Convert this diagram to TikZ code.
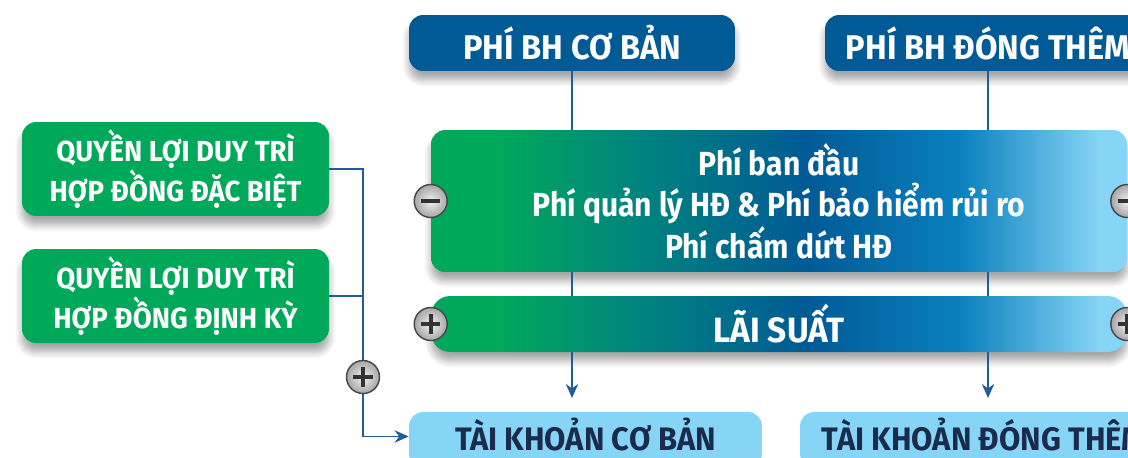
\documentclass[tikz,border=0pt]{standalone}
\usepackage{fontspec}
\newfontfamily\condfont[FakeStretch=0.95]{Fira Sans}
\newfontfamily\feefont[FakeStretch=0.9]{Fira Sans}
\usetikzlibrary{positioning,arrows.meta,shadows,shadows.blur}

\definecolor{feeGreen}{HTML}{00A859}
\definecolor{feeTeal}{HTML}{008A7A}
\definecolor{feeDark}{HTML}{005A96}
\definecolor{feeMid}{HTML}{0A80BE}
\definecolor{feeLight}{HTML}{86D4F6}
\definecolor{acctText}{HTML}{1B2B4B}
\definecolor{linkBlue}{HTML}{1F5C99}

\pgfdeclarehorizontalshading{feeshade}{100bp}{color(0bp)=(feeGreen); color(25bp)=(feeGreen); color(30bp)=(feeGreen); color(38bp)=(feeTeal); color(52bp)=(feeDark); color(63bp)=(feeMid); color(73bp)=(feeLight); color(100bp)=(feeLight)}

\begin{document}
\begin{tikzpicture}[x=0.02cm, y=-0.02cm,
  every node/.style={font=\condfont\bfseries},
  boxshadow/.style={blur shadow={shadow xshift=0pt, shadow yshift=-5pt, shadow blur steps=8, shadow blur radius=4pt, shadow opacity=35}},
  topbox/.style={rectangle, rounded corners=8pt, fill=feeDark, text=white,
    minimum width=6.52cm, minimum height=1.12cm, boxshadow,
    font=\condfont\bfseries\fontsize{19.5}{23}\selectfont},
  feebox/.style={rectangle, rounded corners=8pt, shading=feeshade, text=white,
    minimum width=13.92cm, minimum height=2.84cm, boxshadow, align=center,
    font=\feefont\bfseries\fontsize{19}{23.5}\selectfont},
  ratebox/.style={feebox, rounded corners=11pt, minimum height=1.12cm,
    font=\condfont\bfseries\fontsize{20}{23}\selectfont},
  bonusbox/.style={rectangle, rounded corners=8pt, fill=feeGreen, text=white,
    minimum width=6.14cm, minimum height=1.88cm, boxshadow, align=center,
    font=\condfont\bfseries\fontsize{16.5}{20}\selectfont},
  acctbox/.style={rectangle, rounded corners=8pt, fill=feeLight, text=acctText,
    minimum width=7.06cm, minimum height=1.12cm, text height=14pt, text depth=2.6pt,
    font=\condfont\bfseries\fontsize{18.5}{22}\selectfont},
  link/.style={draw=linkBlue, line width=1.1pt},
  tip/.style={-{Stealth[length=8pt, width=7pt]}},
  knob/.style={circle, minimum size=0.66cm, inner sep=0pt, draw=gray!55!black,
    line width=0.8pt, inner color=gray!10, outer color=gray!70},
  minusknob/.style={knob, path picture={
    \draw[line width=2.4pt, black!80]
      ([xshift=-5.5pt]path picture bounding box.center) -- ([xshift=5.5pt]path picture bounding box.center);}},
  plusknob/.style={knob, path picture={
    \draw[line width=2.4pt, black!80]
      ([xshift=-5.5pt]path picture bounding box.center) -- ([xshift=5.5pt]path picture bounding box.center)
      ([yshift=-5.5pt]path picture bounding box.center) -- ([yshift=5.5pt]path picture bounding box.center);}}]
  \useasboundingbox (0,0) rectangle (1128,457);

  \node[topbox] (baseFee) at (572,43) {PHÍ BH CƠ BẢN};
  \node[topbox] (topupFee) at (988,43) {PHÍ BH ĐÓNG THÊM};
  \node[feebox] (charges) at (779,201) {Phí ban đầu\\Phí quản lý HĐ \& Phí bảo hiểm rủi ro\\Phí chấm dứt HĐ};
  \node[ratebox] (rate) at (779,324) {LÃI SUẤT};
  \node[bonusbox] (bonusA) at (175.5,169) {QUYỀN LỢI DUY TRÌ\\HỢP ĐỒNG ĐẶC BIỆT};
  \node[bonusbox] (bonusB) at (175.5,296) {QUYỀN LỢI DUY TRÌ\\HỢP ĐỒNG ĐỊNH KỲ};
  \node[acctbox] (baseAcct) at (585.5,440) {TÀI KHOẢN CƠ BẢN};
  \node[acctbox, minimum width=7.36cm] (topupAcct) at (984,440) {TÀI KHOẢN ĐÓNG THÊM};

  \coordinate (join) at (363,169);
  \coordinate (baseTip) at (572,398);
  \coordinate (topupTip) at (988,398);

  % fees flow down into the accounts
  \draw[link] (baseFee.south) -- (baseFee.south |- charges.north);
  \draw[link] (baseFee.south |- charges.south) -- (baseFee.south |- rate.north);
  \draw[link, tip] (baseFee.south |- rate.south) -- (baseTip);
  \draw[link] (topupFee.south) -- (topupFee.south |- charges.north);
  \draw[link] (topupFee.south |- charges.south) -- (topupFee.south |- rate.north);
  \draw[link, tip] (topupFee.south |- rate.south) -- (topupTip);

  % bonuses
  \draw[link, tip] (bonusA.east) -- (join) |- ([yshift=2pt]baseAcct.west);
  \draw[link] (bonusB.east) -- (bonusB.east -| join);

  \node[minusknob] (chargesL) at (charges.west) {};
  \node[minusknob] (chargesR) at (charges.east) {};
  \node[plusknob] (rateL) at (rate.west) {};
  \node[plusknob] (rateR) at (rate.east) {};
  \node[plusknob] (bonusKnob) at (363,377) {};
\end{tikzpicture}
\end{document}
